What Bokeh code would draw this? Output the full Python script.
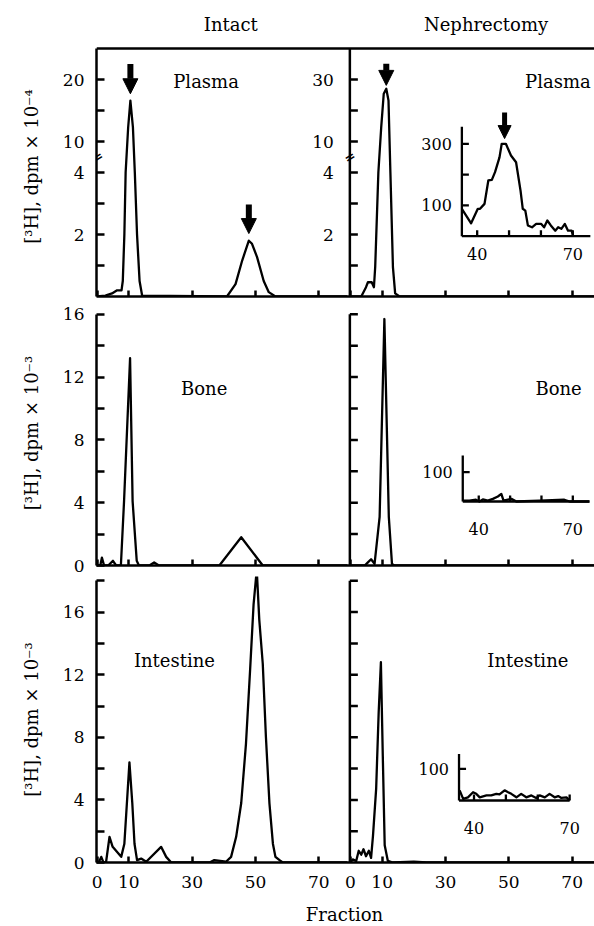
import numpy as np
from bokeh.plotting import figure
from bokeh.models import FixedTicker, Range1d, Arrow, NormalHead
from bokeh.layouts import column
from bokeh.embed import file_html
from bokeh.resources import INLINE
from bokeh.core.properties import value

FONT = "DejaVu Serif"

# ---------------- values ----------------
fraction_ticks = [0, 10, 30, 50, 70]

# Plasma ([3H] dpm x 10^-4)
plasma_intact_x = [0, 2.6, 4.7, 6.3, 7.7, 8.1, 8.6, 9.0, 9.8, 10.5, 11.3, 11.9, 12.6, 13.4, 14.2,
                   41.0, 43.7, 45.8, 47.9, 48.9, 50.5, 52.6, 54.2, 56.3, 79.0]
plasma_intact_y = [0, 0.03, 0.1, 0.2, 0.2, 0.5, 2.0, 4.0, 12.3, 16.6, 12.3, 4.0, 2.0, 0.5, 0.03,
                   0, 0.4, 1.16, 1.8, 1.7, 1.27, 0.5, 0.14, 0, 0]
plasma_neph_x = [0, 3.4, 4.9, 5.5, 6.7, 7.4, 7.8, 8.8, 9.7, 10.5, 11.3, 12.0, 12.6, 13.4, 14.1, 15.5, 77.0]
plasma_neph_y = [0, 0, 0.3, 0.46, 0.46, 0.3, 0.95, 4.0, 14.6, 25.4, 27.0, 23.2, 4.0, 0.95, 0.1, 0, 0]
plasma_inset_x = [35.2, 38.1, 40.2, 40.9, 42.3, 43.5, 44.6, 45.6, 47.0, 47.7, 49.0, 50.6, 52.2, 53.6,
                  54.3, 55.1, 55.9, 57.2, 58.5, 60.1, 61.0, 62.0, 63.1, 64.5, 65.4, 66.4, 67.5, 68.5,
                  69.6, 70.1]
plasma_inset_y = [89, 42, 89, 89, 105, 181, 183, 208, 256, 300, 300, 262, 240, 148, 89, 83, 35, 29,
                  40, 40, 29, 51, 35, 18, 29, 24, 40, 18, 18, 2]

plasma_intact_arrow_x = [10.5, 47.9]
plasma_intact_arrow_from = [22.5, 2.97]
plasma_intact_arrow_to = [17.7, 2.03]
plasma_neph_arrow_x = [11.3]
plasma_neph_arrow_from = [35.1]
plasma_neph_arrow_to = [28.1]
plasma_inset_arrow_x = [48.6]
plasma_inset_arrow_from = [402]
plasma_inset_arrow_to = [317]

plasma_left_ticks = [1, 2, 3, 4, 10, 15, 20]
plasma_left_labeled = [2, 4, 10, 20]
plasma_right_ticks = [1, 2, 3, 4, 10, 20, 30]
plasma_right_labeled = [2, 4, 10, 30]
plasma_inset_yticks = [100, 200, 300]
plasma_inset_ylabels = [100, 300]

# Bone ([3H] dpm x 10^-3)
bone_intact_x = [0, 1.0, 1.5, 2.2, 3.5, 5.0, 6.0, 7.5, 8.5, 10.4, 11.2, 12.5, 13.2, 16.5, 18.0, 19.5,
                 38.6, 45.5, 52.3, 79.0]
bone_intact_y = [0, 0, 0.5, 0, 0, 0.3, 0, 0, 4.1, 13.2, 4.1, 0.3, 0, 0, 0.2, 0, 0, 1.8, 0, 0]
bone_neph_x = [0, 0.8, 4.5, 5.5, 6.5, 7.6, 9.2, 10.7, 12.1, 13.1, 13.9, 77.0]
bone_neph_y = [0, 0, 0, 0.2, 0.4, 0.1, 3.1, 15.7, 3.1, 0.1, 0, 0]
bone_inset_x = [34.9, 37.0, 39.1, 40.2, 41.3, 42.9, 44.5, 46.1, 47.2, 47.9, 50.4, 52.0, 59.4, 67.3, 69.0, 75.3]
bone_inset_y = [3, 3, 6, 0, 7, 3, 9, 17, 26, 3, 9, 0, 3, 6, 0, 0]

# Intestine ([3H] dpm x 10^-3)
intestine_intact_x = [0, 0.5, 1.3, 2.0, 2.8, 3.9, 4.9, 7.6, 8.6, 9.4, 10.2, 11.1, 11.8, 12.6, 13.9,
                      15.5, 20.2, 21.8, 23.4, 35.5, 37.0, 40.7, 42.3, 43.9, 45.5, 47.0, 48.3, 49.4,
                      50.4, 51.2, 52.3, 53.3, 54.4, 55.5, 56.3, 57.6, 58.6, 79.0]
intestine_intact_y = [0, 0, 0.36, 0, 0, 1.64, 1.0, 0.36, 1.2, 3.8, 6.4, 3.8, 1.2, 0.15, 0.25,
                      0.05, 1.0, 0.36, 0, 0, 0.15, 0.05, 0.36, 1.64, 3.8, 7.6, 12.3, 16.5,
                      18.7, 15.5, 12.7, 8.0, 3.8, 1.2, 0.36, 0.15, 0, 0]
intestine_neph_x = [0, 0.7, 1.8, 2.6, 3.4, 4.1, 4.9, 5.8, 6.5, 7.1, 8.1, 8.9, 9.6, 10.2, 10.8, 11.8,
                    13.4, 20.0, 24.0, 77.0]
intestine_neph_y = [0, 0.2, 0.1, 0.75, 0.5, 0.85, 0.4, 0.75, 0.3, 1.7, 4.7, 9.6, 12.8, 6.8, 1.1,
                    0.1, 0, 0.05, 0, 0]
intestine_inset_x = [35.5, 36.6, 38.1, 39.7, 40.7, 41.8, 43.9, 45.4, 47.0, 48.0, 49.6, 50.7, 51.7,
                     53.3, 54.8, 56.4, 58.0, 59.5, 60.6, 62.2, 63.7, 65.3, 66.4, 67.4, 69.0, 70.0]
intestine_inset_y = [32, 5, 10, 26, 21, 10, 16, 16, 21, 19, 32, 26, 21, 10, 21, 10, 16, 8, 16, 10,
                     21, 10, 14, 8, 10, 0]

tissue_ticks_bone = [0, 2, 4, 6, 8, 10, 12, 14, 16]
tissue_ticks_intestine = [0, 2, 4, 6, 8, 10, 12, 14, 16, 18]
tissue_labeled = [0, 4, 8, 12, 16]
inset_xticks = [40, 50, 60, 70]
inset_xlabels = [40, 70]

# ---------------- layout constants ----------------
XSTART = -0.2      # left edge of each row (fraction units)
PXF = 3.167        # px per fraction
OFF = 80           # x offset of the right (nephrectomy) panel
LW = 2.3
AXW = 2.5
TOTAL_W = 594


def broken(v, upper_step):
    """Broken plasma axis: 0-4 linear, then 10.. compressed by upper_step per unit."""
    v = np.asarray(v, dtype=float)
    return np.where(v <= 4, v, np.where(v >= 10, 5 + (v - 10) / upper_step, 4 + (v - 4) / 6))


def make_band(border_left, height):
    fw = TOTAL_W - border_left
    p = figure(frame_width=fw, frame_height=height,
               x_range=Range1d(XSTART, XSTART + fw / PXF), y_range=Range1d(0, height),
               min_border_left=border_left, min_border_right=0, min_border_top=0,
               min_border_bottom=0, x_axis_type=None, y_axis_type=None,
               output_backend="svg", toolbar_location=None)
    p.outline_line_color = None
    return p


def style_ticks(axis, tick_len):
    axis.major_tick_in = tick_len
    axis.major_tick_out = 0
    axis.minor_tick_in = tick_len
    axis.minor_tick_out = 0
    axis.axis_line_width = AXW
    axis.major_tick_line_width = AXW
    axis.minor_tick_line_width = AXW
    axis.minor_tick_line_color = "black"
    axis.major_tick_line_color = "black"
    axis.axis_line_color = "black"
    axis.major_label_text_font = FONT
    axis.major_label_text_font_style = "normal"
    axis.major_label_text_font_size = "17px"
    axis.major_label_text_color = "black"


def make_row(border_left, frame_h, y_end, border_bottom, show_labels):
    fw = TOTAL_W - border_left
    p = figure(frame_width=fw, frame_height=frame_h,
               x_range=Range1d(XSTART, XSTART + fw / PXF), y_range=Range1d(0, y_end),
               min_border_left=border_left, min_border_right=0,
               min_border_top=0, min_border_bottom=border_bottom,
               output_backend="svg", toolbar_location=None)
    p.outline_line_color = None
    p.grid.visible = False
    xa = p.xaxis[0]
    all_x = fraction_ticks + [OFF + t for t in fraction_ticks]
    style_ticks(xa, 6)
    if show_labels:
        xa.ticker = FixedTicker(ticks=all_x)
        xa.major_label_overrides = {OFF + t: str(t) for t in fraction_ticks}
        xa.major_label_standoff = 13
    else:
        # unlabeled ticks only
        xa.ticker = FixedTicker(ticks=[], minor_ticks=all_x)
        xa.major_label_standoff = 0
    ya = p.yaxis[0]
    style_ticks(ya, 8)
    ya.major_label_standoff = 12
    return p


def axis_title(axis, text, standoff):
    axis.axis_label = text
    axis.axis_label_text_font = FONT
    axis.axis_label_text_font_size = "18px"
    axis.axis_label_text_font_style = "normal"
    axis.axis_label_text_color = "black"
    axis.axis_label_standoff = standoff


def right_axis(p, y_top, tick_pos, label_pos=None, labels=None):
    ax = OFF + XSTART
    p.segment(x0=[ax], y0=[0], x1=[ax], y1=[y_top], line_color="black", line_width=AXW)
    n = len(tick_pos)
    p.segment(x0=[ax] * n, y0=list(tick_pos), x1=[ax + 8 / PXF] * n, y1=list(tick_pos),
              line_color="black", line_width=AXW)
    if labels:
        p.text(x=[ax] * len(labels), y=list(label_pos), text=labels, x_offset=-16,
               text_align="right", text_baseline="middle", text_font=value(FONT),
               text_font_size="17px", text_color="black")


def panel_label(p, x, y, text):
    p.text(x=[x], y=[y], text=[text], text_align="center", text_baseline="middle",
           text_font=value(FONT), text_font_size="18px", text_color="black")


def inset(p, tgt_x, tgt_y, xs, ys, ax_left, ax_right, y_top, yticks, ylabels, ytick_len, xlab_off):
    sub = p.subplot(x_source=Range1d(40, 70), y_source=Range1d(0, 100),
                    x_target=Range1d(*tgt_x), y_target=Range1d(*tgt_y))
    sub.line(xs, ys, line_color="black", line_width=LW, line_join="round")
    sub.segment(x0=[ax_left, ax_left], y0=[0, 0], x1=[ax_left, ax_right], y1=[y_top, 0],
                line_color="black", line_width=LW)
    n = len(yticks)
    sub.segment(x0=[ax_left] * n, y0=yticks, x1=[ax_left + 2.2] * n, y1=yticks,
                line_color="black", line_width=LW)
    m = len(inset_xticks)
    sub.segment(x0=inset_xticks, y0=[0] * m, x1=inset_xticks, y1=[ytick_len] * m,
                line_color="black", line_width=LW)
    sub.text(x=[ax_left] * len(ylabels), y=ylabels, text=[str(v) for v in ylabels], x_offset=-10,
             text_align="right", text_baseline="middle", text_font=value(FONT),
             text_font_size="16px", text_color="black")
    sub.text(x=inset_xlabels, y=[0] * len(inset_xlabels), text=[str(v) for v in inset_xlabels],
             y_offset=xlab_off, text_align="center", text_baseline="middle",
             text_font=value(FONT), text_font_size="16px", text_color="black")
    return sub


def break_mark(p, x, y):
    p.text(x=[x], y=[y], text=["="], angle=0.55, text_align="center", text_baseline="middle",
           text_font=value(FONT), text_font_size="13px", text_font_style="bold", text_color="black")


def arrow(p, x, y0, y1, size, width, coordinates=None):
    kw = dict(x_start=x, y_start=y0, x_end=x, y_end=y1, line_width=width, line_color="black",
              end=NormalHead(size=size, fill_color="black", line_color="black", line_width=1))
    a = None
    if coordinates is not None:
        try:
            a = Arrow(coordinates=coordinates, **kw)
        except Exception:
            a = None
    if a is None:
        a = Arrow(**kw)
    p.add_layout(a)


def tissue_ticker(ticks):
    return FixedTicker(ticks=[t for t in ticks if t in tissue_labeled],
                       minor_ticks=[t for t in ticks if t not in tissue_labeled])


# ---------------- column titles ----------------
titles = make_band(96, 36)
panel_label(titles, 42.2, 12.5, "Intact")
panel_label(titles, OFF + 42.8, 12.5, "Nephrectomy")

# ---------------- top row: plasma ----------------
TOP_Y = 8.0          # top border of the plasma panels (display units)
top = make_row(96, 260, 260 / 31.0, 4, False)
ya = top.yaxis[0]
axis_title(ya, "[³H], dpm × 10⁻⁴", 18)
ya.bounds = (0, TOP_Y)
ya.ticker = FixedTicker(
    ticks=[float(broken(v, 5)) for v in plasma_left_ticks if v in plasma_left_labeled],
    minor_ticks=[float(broken(v, 5)) for v in plasma_left_ticks if v not in plasma_left_labeled])
ya.major_label_overrides = {float(broken(v, 5)): str(v) for v in plasma_left_labeled}
top.segment(x0=[XSTART], y0=[TOP_Y], x1=[top.x_range.end], y1=[TOP_Y], line_color="black",
            line_width=AXW)

top.line(plasma_intact_x, broken(plasma_intact_y, 5), line_color="black", line_width=LW,
         line_join="round")
top.line([OFF + x for x in plasma_neph_x], broken(plasma_neph_y, 10), line_color="black",
         line_width=LW, line_join="round")
right_axis(top, TOP_Y, [float(v) for v in broken(plasma_right_ticks, 10)],
           [float(v) for v in broken(plasma_right_labeled, 10)], [str(v) for v in plasma_right_labeled])
break_mark(top, XSTART + 0.3, 4.5)
break_mark(top, OFF + XSTART, 4.5)
for x, a0, a1 in zip(plasma_intact_arrow_x, plasma_intact_arrow_from, plasma_intact_arrow_to):
    arrow(top, x, float(broken(a0, 5)), float(broken(a1, 5)), 15, 6)
for x, a0, a1 in zip(plasma_neph_arrow_x, plasma_neph_arrow_from, plasma_neph_arrow_to):
    arrow(top, OFF + x, float(broken(a0, 10)), float(broken(a1, 10)), 15, 6)

panel_label(top, 34.4, 6.94, "Plasma")
panel_label(top, OFF + 65.5, 6.94, "Plasma")

sub_p = inset(top, (OFF + 40.0, OFF + 70.2), (1.945, 2.9385), plasma_inset_x, plasma_inset_y,
              35.2, 75.5, 355, plasma_inset_yticks, plasma_inset_ylabels, 19.5, 17.6)
coords = getattr(sub_p, "coordinates", None)
if coords is not None:
    for x, a0, a1 in zip(plasma_inset_arrow_x, plasma_inset_arrow_from, plasma_inset_arrow_to):
        arrow(top, x, a0, a1, 13, 5, coordinates=coords)
else:
    sx = (70.2 - 40.0) / 30.0
    sy = (2.9385 - 1.945) / 100.0
    for x, a0, a1 in zip(plasma_inset_arrow_x, plasma_inset_arrow_from, plasma_inset_arrow_to):
        arrow(top, OFF + 40.0 + (x - 40) * sx, 1.945 + a0 * sy, 1.945 + a1 * sy, 13, 5)

# ---------------- middle row: bone ----------------
mid = make_row(91, 265, 16.88, 11, False)
ya = mid.yaxis[0]
axis_title(ya, "[³H], dpm × 10⁻³", 18)
ya.bounds = (0, 16)
ya.ticker = tissue_ticker(tissue_ticks_bone)
mid.line(bone_intact_x, bone_intact_y, line_color="black", line_width=LW, line_join="round")
mid.line([OFF + x for x in bone_neph_x], bone_neph_y, line_color="black", line_width=LW,
         line_join="round")
right_axis(mid, 16, tissue_ticks_bone[1:])
panel_label(mid, 33.8, 11.29, "Bone")
panel_label(mid, OFF + 65.7, 11.29, "Bone")
inset(mid, (OFF + 40.5, OFF + 70.2), (4.076, 5.942), bone_inset_x, bone_inset_y,
      34.9, 75.3, 157, [100], [100], 20.5, 27)

# ---------------- bottom row: intestine ----------------
bot = make_row(89, 286, 286 / 15.65, 36, True)
ya = bot.yaxis[0]
axis_title(ya, "[³H], dpm × 10⁻³", 18)
ya.bounds = (0, 18)
ya.ticker = tissue_ticker(tissue_ticks_intestine)
bot.line(intestine_intact_x, intestine_intact_y, line_color="black", line_width=LW, line_join="round")
bot.line([OFF + x for x in intestine_neph_x], intestine_neph_y, line_color="black", line_width=LW,
         line_join="round")
right_axis(bot, 18, tissue_ticks_intestine[1:])
panel_label(bot, 24.4, 12.91, "Intestine")
panel_label(bot, OFF + 56.0, 12.91, "Intestine")
inset(bot, (OFF + 39.0, OFF + 69.2), (3.962, 5.988), intestine_inset_x, intestine_inset_y,
      35.3, 70.0, 147, [100], [100], 19, 28)

# ---------------- x-axis title ----------------
footer = make_band(89, 28)
panel_label(footer, 78.1, 12, "Fraction")

layout = column(titles, top, mid, bot, footer)
open("out.html", "w").write(file_html(layout, INLINE))
